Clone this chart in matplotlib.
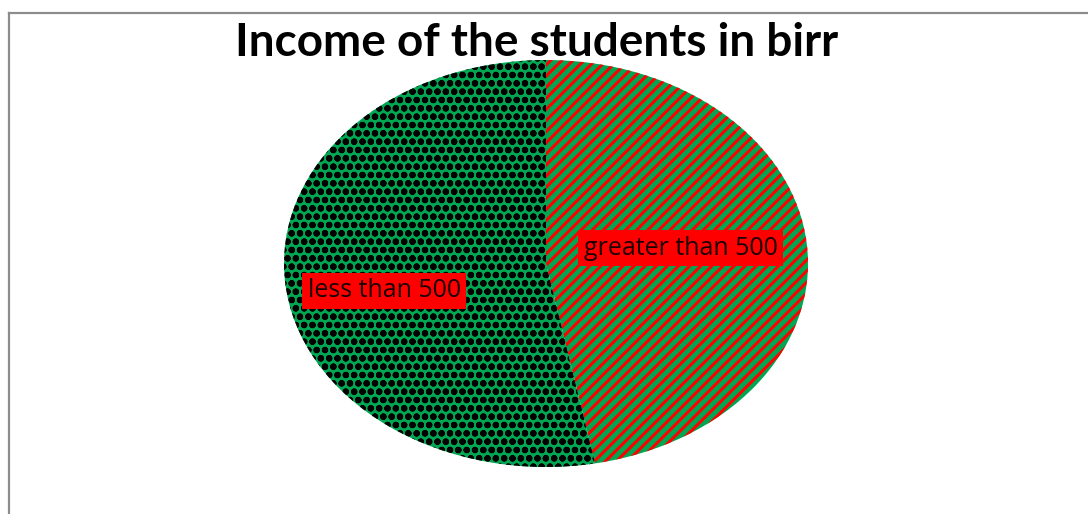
import matplotlib
matplotlib.use("Agg")
import matplotlib.pyplot as plt
from matplotlib.lines import Line2D

# Income groups of the surveyed students (percent)
categories = ["greater than 500", "less than 500"]
shares = [47, 53]
title = "Income of the students in birr"

face = "#00A651"
hatch_colors = ["#FF0000", "#000000"]
hatches = ["///", "oo"]
hatch_widths = [2.2, 2.2]

plt.rcParams["hatch.linewidth"] = 2.2

fig = plt.figure(figsize=(10.88, 5.14), dpi=100)
fig.patch.set_facecolor("white")

# thin grey frame along the top and left edges
fig.add_artist(Line2D([9 / 1088, 9 / 1088], [0, 1 - 13 / 514], transform=fig.transFigure,
                      color="#8c8c8c", lw=1.6))
fig.add_artist(Line2D([9 / 1088, 1], [1 - 13 / 514, 1 - 13 / 514], transform=fig.transFigure,
                      color="#8c8c8c", lw=1.6))

# elliptical pie: axes box matches the ellipse extent, no equal aspect
cx, cy, rx, ry = 546, 263.5, 262, 203.5
ax = fig.add_axes([(cx - rx) / 1088, (514 - cy - ry) / 514, 2 * rx / 1088, 2 * ry / 514])
wedges, _ = ax.pie(shares, startangle=90, counterclock=False, radius=1.0,
                   colors=[face, face], wedgeprops=dict(linewidth=0))
for w, h, hc, hw in zip(wedges, hatches, hatch_colors, hatch_widths):
    w.set_hatch(h)
    w.set_edgecolor(hc)
    w.set_linewidth(0)
    if hasattr(w, "set_hatch_linewidth"):
        w.set_hatch_linewidth(hw)
ax.set_aspect("auto")
ax.set_xlim(-1, 1)
ax.set_ylim(-1, 1)
ax.axis("off")

label_pos = [(0.515, 0.075), (-0.618, -0.135)]
for name, (lx, ly) in zip(categories, label_pos):
    ax.text(lx, ly, name, ha="center", va="center", fontsize=18, color="#1a0000",
            family="Open Sans",
            bbox=dict(boxstyle="square,pad=0.22", facecolor="#FF0000", edgecolor="none"))

fig.text(537 / 1088, 1 - 56 / 514, title, ha="center", va="baseline",
         fontsize=33, fontweight="bold", family="Lato", color="black")

fig.savefig("out.png", dpi=100, facecolor="white")
